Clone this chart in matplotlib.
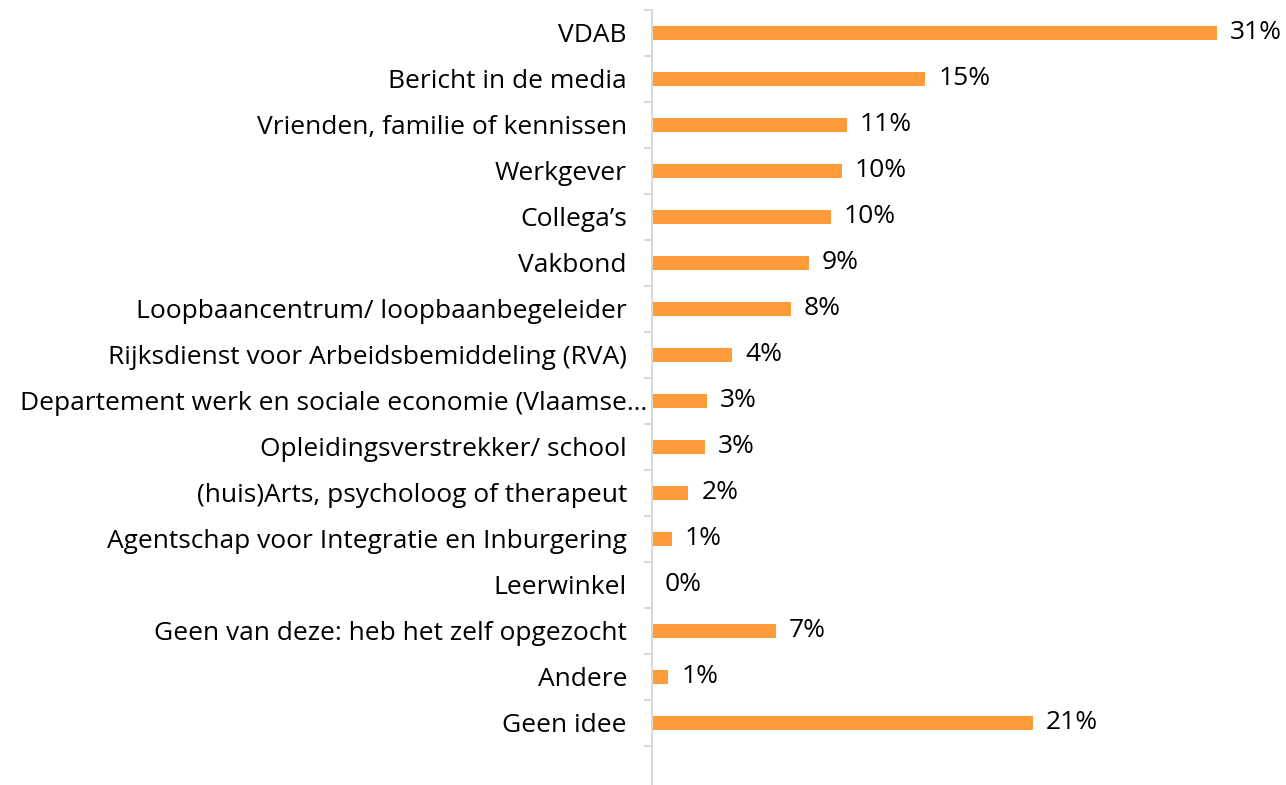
import matplotlib
matplotlib.use('Agg')
import matplotlib.pyplot as plt
from matplotlib.transforms import ScaledTranslation

plt.rcParams['font.family'] = ['Open Sans', 'DejaVu Sans']

categories = [
    'VDAB',
    'Bericht in de media',
    'Vrienden, familie of kennissen',
    'Werkgever',
    'Collega\u2019s',
    'Vakbond',
    'Loopbaancentrum/ loopbaanbegeleider',
    'Rijksdienst voor Arbeidsbemiddeling (RVA)',
    'Departement werk en sociale economie (Vlaamse\u2026',
    'Opleidingsverstrekker/ school',
    '(huis)Arts, psycholoog of therapeut',
    'Agentschap voor Integratie en Inburgering',
    'Leerwinkel',
    'Geen van deze: heb het zelf opgezocht',
    'Andere',
    'Geen idee',
]
values = [31.0, 15.0, 10.7, 10.4, 9.8, 8.6, 7.6, 4.4, 3.0, 2.9, 2.0, 1.1, 0.0, 6.8, 0.9, 20.9]
labels = ['31%', '15%', '11%', '10%', '10%', '9%', '8%', '4%', '3%', '3%', '2%', '1%', '0%', '7%', '1%', '21%']

bar_color = '#FF9B38'
grid_color = '#D9D9D9'

W, H = 1286, 785
fig = plt.figure(figsize=(W / 100, H / 100), dpi=100)
left, right, top = 652, 1230, 10
ax = fig.add_axes([left / W, 0, (right - left) / W, 1 - top / H])

ypos = list(range(len(categories)))
ax.barh(ypos, values, height=0.31, color=bar_color)
for y, v, lab in zip(ypos, values, labels):
    ax.annotate(lab, (v, y), xytext=(13, 0), textcoords='offset pixels',
                va='center', ha='left', fontsize=19, color='#000000')

ax.set_xlim(0, 31 * (right - left) / (1217 - left))
ax.set_ylim(len(categories) - 0.5 + 0.85, -0.5)

ax.set_yticks(ypos)
ax.set_yticklabels(categories, fontsize=19)
ax.set_yticks([i - 0.5 for i in range(len(categories) + 1)], minor=True)
ax.tick_params(axis='y', which='major', length=0, pad=18)
ax.tick_params(axis='y', which='minor', length=6, width=1.5, color=grid_color)
ax.set_xticks([])

# the truncated label runs on up to the axis line
long_lab = ax.get_yticklabels()[8]
long_lab.set_transform(long_lab.get_transform() + ScaledTranslation(0.2, 0, fig.dpi_scale_trans))

for s in ['top', 'right', 'bottom']:
    ax.spines[s].set_visible(False)
ax.spines['left'].set_color(grid_color)
ax.spines['left'].set_linewidth(1.5)

fig.savefig('out.png', dpi=100)
